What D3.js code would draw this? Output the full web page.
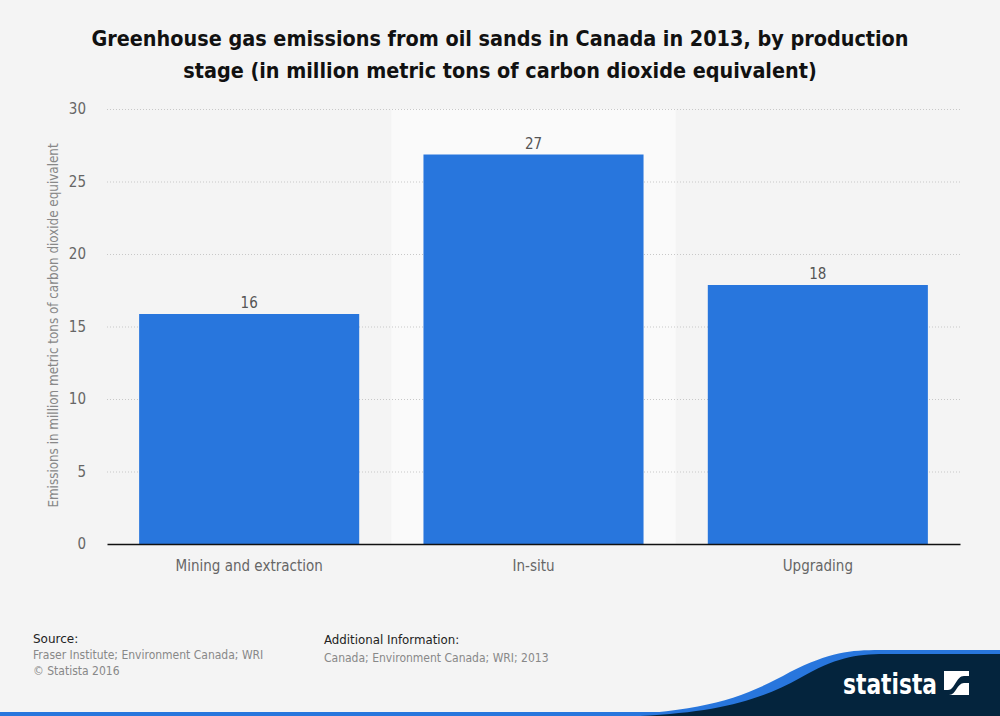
<!DOCTYPE html>
<html>
<head>
<meta charset="utf-8">
<script src="https://cdn.jsdelivr.net/npm/d3@7"></script>
<style>
  body { margin: 0; background: #f4f4f4; }
  svg { display: block; font-family: "DejaVu Sans Condensed", "DejaVu Sans", sans-serif; }
</style>
</head>
<body>
<script>
var categories = ["Mining and extraction", "In-situ", "Upgrading"];
var values = [16, 27, 18];
var yTicks = [0, 5, 10, 15, 20, 25, 30];
var titleLines = ["Greenhouse gas emissions from oil sands in Canada in 2013, by production",
                  "stage (in million metric tons of carbon dioxide equivalent)"];

var W = 1000, H = 716;
var m = { left: 107, right: 40, top: 109, bottom: 172 };

var svg = d3.select("body").append("svg")
    .attr("width", W)
    .attr("height", H);

svg.append("rect")
    .attr("width", W)
    .attr("height", H)
    .attr("fill", "#f4f4f4");

// title
svg.append("text")
    .attr("x", 500)
    .attr("y", 46)
    .attr("text-anchor", "middle")
    .attr("font-size", 21.4)
    .attr("font-weight", "bold")
    .attr("fill", "#111")
    .selectAll("tspan")
    .data(titleLines)
    .join("tspan")
    .attr("x", 500)
    .attr("dy", function (d, i) { return i ? 32 : 0; })
    .text(function (d) { return d; });

var x = d3.scaleBand()
    .domain(categories)
    .range([m.left, W - m.right])
    .paddingInner(0.226)
    .paddingOuter(0.113);

var band = d3.scaleBand()
    .domain(categories)
    .range([m.left, W - m.right]);

var y = d3.scaleLinear()
    .domain([0, 30])
    .range([H - m.bottom, m.top]);

// highlighted column
svg.append("rect")
    .attr("x", band("In-situ"))
    .attr("y", y(30))
    .attr("width", band.bandwidth())
    .attr("height", y(0) - y(30))
    .attr("fill", "#fafafa");

// grid
var grid = svg.append("g")
    .attr("transform", "translate(" + m.left + ",0)")
    .call(d3.axisLeft(y).tickValues(yTicks).tickSize(-(W - m.left - m.right)).tickFormat(""));
grid.select(".domain").remove();
grid.selectAll(".tick line")
    .attr("stroke", "#c8c8c8")
    .attr("stroke-dasharray", "1,2");
grid.selectAll(".tick").filter(function (d) { return d === 0; }).remove();

// y labels
svg.append("g").selectAll("text")
    .data(yTicks)
    .join("text")
    .attr("x", 86)
    .attr("y", function (d) { return y(d) + 5; })
    .attr("text-anchor", "end")
    .attr("font-size", 15)
    .attr("fill", "#666")
    .text(function (d) { return d; });

svg.append("text")
    .attr("transform", "translate(58," + ((y(0) + y(30)) / 2 - 1) + ") rotate(-90)")
    .attr("text-anchor", "middle")
    .attr("font-size", 13.3)
    .attr("fill", "#888")
    .text("Emissions in million metric tons of carbon dioxide equivalent");

// bars (drawn 2px low, like the reference)
svg.append("g").selectAll("rect")
    .data(values)
    .join("rect")
    .attr("x", function (d, i) { return x(categories[i]); })
    .attr("y", function (d) { return y(d) + 2; })
    .attr("width", x.bandwidth())
    .attr("height", function (d) { return y(0) - y(d) - 2; })
    .attr("fill", "#2876dd");

svg.append("g").selectAll("text")
    .data(values)
    .join("text")
    .attr("x", function (d, i) { return x(categories[i]) + x.bandwidth() / 2; })
    .attr("y", function (d) { return y(d) - 4; })
    .attr("text-anchor", "middle")
    .attr("font-size", 15)
    .attr("fill", "#555")
    .text(function (d) { return d; });

// x axis
var xa = svg.append("g")
    .attr("transform", "translate(0," + y(0) + ")")
    .call(d3.axisBottom(x).tickSize(0).tickPadding(16));
xa.select(".domain").attr("stroke", "#111").attr("stroke-width", 1.3);
xa.selectAll("text")
    .attr("font-family", "DejaVu Sans Condensed, DejaVu Sans, sans-serif")
    .attr("font-size", 15)
    .attr("fill", "#666");

// footer
var reg = "DejaVu Sans, sans-serif";
svg.append("text").attr("x", 33).attr("y", 643).attr("font-family", reg).attr("font-size", 12).attr("fill", "#222").text("Source:");
svg.append("text").attr("x", 33).attr("y", 659).attr("font-size", 12).attr("fill", "#888").text("Fraser Institute; Environment Canada; WRI");
svg.append("text").attr("x", 33).attr("y", 675).attr("font-size", 12).attr("fill", "#888").text("\u00a9 Statista 2016");
svg.append("text").attr("x", 324).attr("y", 644).attr("font-family", reg).attr("font-size", 11.8).attr("fill", "#222").text("Additional Information:");
svg.append("text").attr("x", 324).attr("y", 662).attr("font-size", 12).attr("fill", "#888").text("Canada; Environment Canada; WRI; 2013");

// bottom band and logo
svg.append("rect").attr("x", 0).attr("y", 712).attr("width", W).attr("height", 4).attr("fill", "#2876dd");
svg.append("path")
    .attr("d", "M600,716 C700,712 740,700 790,672 C830,652 850,650 880,650 L1000,650 L1000,716 Z")
    .attr("fill", "#2876dd");
svg.append("path")
    .attr("d", "M640,716 C720,712 760,700 800,678 C835,658 855,654 885,654 L1000,654 L1000,716 Z")
    .attr("fill", "#04243d");
svg.append("text")
    .attr("x", 843)
    .attr("y", 694)
    .attr("font-size", 28)
    .attr("font-weight", "bold")
    .attr("fill", "#fff")
    .attr("textLength", 94)
    .attr("lengthAdjust", "spacingAndGlyphs")
    .text("statista");
var lg = svg.append("g").attr("transform", "translate(944,671)");
lg.append("rect").attr("width", 25).attr("height", 24).attr("fill", "#fff");
lg.append("path")
    .attr("d", "M0,19 L0,24 L5,24 C12,24 13,12 20,12 L25,12 L25,5 L20,5 C12,5 11,19 4,19 Z")
    .attr("fill", "#04243d");
</script>
</body>
</html>
